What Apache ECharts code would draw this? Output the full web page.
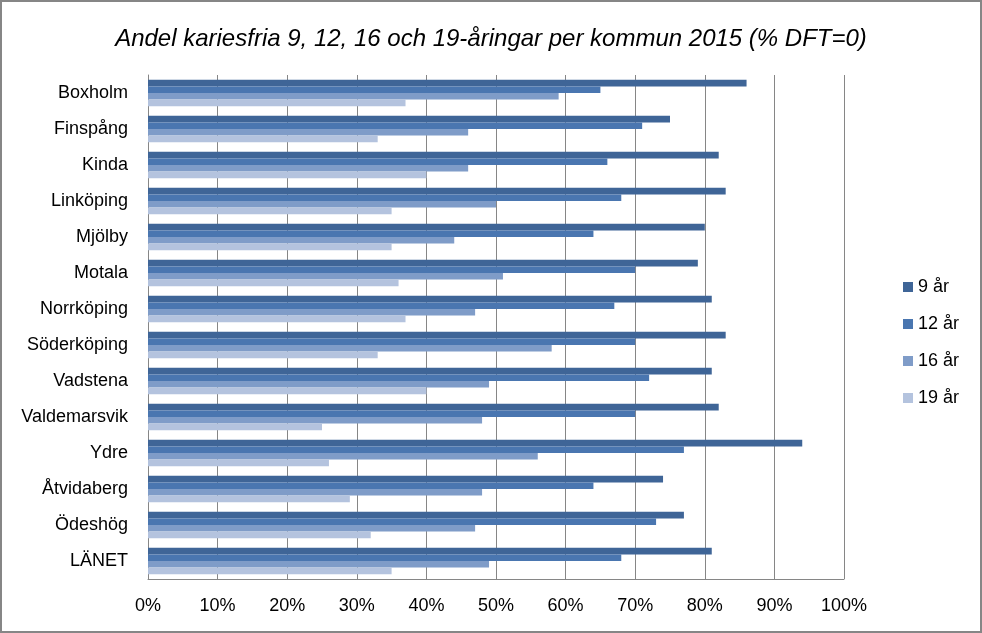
<!DOCTYPE html>
<html>
<head>
<meta charset="utf-8">
<script src="https://cdn.jsdelivr.net/npm/echarts@6/dist/echarts.min.js"></script>
<style>
html,body{margin:0;padding:0;background:#fff;}
#c{width:982px;height:633px;}
</style>
</head>
<body>
<div id="c"></div>
<script>
const categories = ["Boxholm","Finspång","Kinda","Linköping","Mjölby","Motala","Norrköping","Söderköping","Vadstena","Valdemarsvik","Ydre","Åtvidaberg","Ödeshög","LÄNET"];
const seriesNames = ["9 år","12 år","16 år","19 år"];
const v9  = [86,75,82,83,80,79,81,83,81,82,94,74,77,81];
const v12 = [65,71,66,68,64,70,67,70,72,70,77,64,73,68];
const v16 = [59,46,46,50,44,51,47,58,49,48,56,48,47,49];
const v19 = [37,33,40,35,35,36,37,33,40,25,26,29,32,35];
const xTicks = [0,10,20,30,40,50,60,70,80,90,100];
const colors = ["#3F6597","#4A76B0","#7F9CC8","#B4C3DE"];
const values = [v9,v12,v16,v19];

const chart = echarts.init(document.getElementById('c'));
const font = "'Liberation Sans', Arial, sans-serif";
chart.setOption({
  animation:false,
  backgroundColor:'#fff',
  textStyle:{fontFamily:font},
  title:{
    text:"Andel kariesfria 9, 12, 16 och 19-åringar per kommun 2015 (% DFT=0)",
    left:'center', top:22,
    textStyle:{fontSize:24, fontStyle:'italic', fontWeight:'normal', color:'#000', fontFamily:font}
  },
  legend:{
    orient:'vertical', left:898, top:273, itemGap:19,
    itemWidth:10, itemHeight:10, icon:'rect',
    textStyle:{fontSize:18, color:'#000'},
    data:seriesNames
  },
  grid:{left:148, right:138, top:75, bottom:54, containLabel:false},
  xAxis:{
    type:'value', min:0, max:100, interval:10,
    axisLine:{show:true, lineStyle:{color:'#868686'}},
    axisTick:{show:false},
    axisLabel:{fontSize:18, color:'#000', margin:18, formatter:function(v){return xTicks.indexOf(v)>=0 ? v+'%' : '';}},
    splitLine:{show:true, lineStyle:{color:'#868686', width:1}}
  },
  yAxis:{
    type:'category', data:categories, inverse:true,
    axisLine:{show:true, lineStyle:{color:'#868686'}},
    axisTick:{show:false},
    axisLabel:{fontSize:18, color:'#000', margin:20}
  },
  series: seriesNames.map((n,i)=>({
    name:n, type:'bar', data:values[i], barWidth:6.6, barGap:'0%',
    itemStyle:{color:colors[i]}
  })),
  graphic:[{type:'rect', shape:{x:1, y:1, width:980, height:631}, style:{fill:'none', stroke:'#868686', lineWidth:2}, silent:true}]
});
</script>
</body>
</html>
